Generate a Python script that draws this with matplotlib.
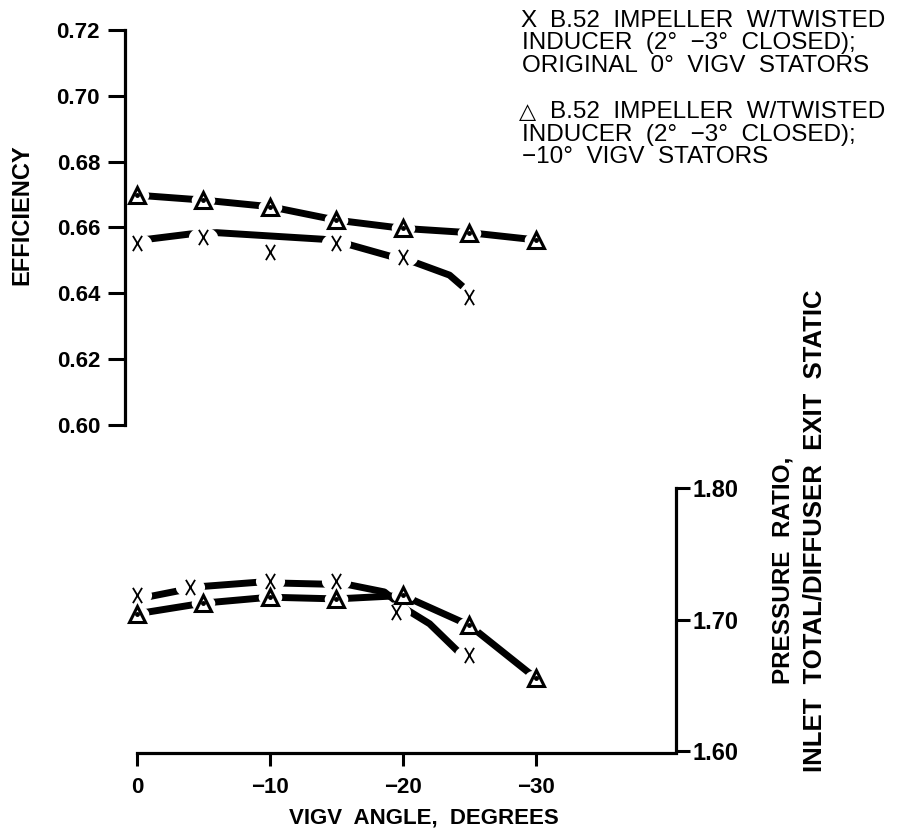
import numpy as np
import matplotlib.pyplot as plt
from matplotlib.path import Path
from matplotlib.transforms import Affine2D

plt.rcParams['font.family'] = ['Liberation Sans', 'DejaVu Sans']
plt.rcParams['font.weight'] = 'bold'

# VIGV angle, degrees
angle_tri = [0, -5, -10, -15, -20, -25, -30]
angle_x_eff = [0, -5, -10, -15, -20, -25]
angle_x_pr = [0, -4, -10, -15, -19.5, -25]

# test points
eff_x = [0.6552, 0.6570, 0.6526, 0.6552, 0.6511, 0.6388]
eff_tri = [0.6698, 0.6683, 0.6663, 0.6622, 0.6597, 0.6584, 0.6562]
pr_x = [1.7183, 1.7245, 1.7291, 1.7296, 1.7057, 1.6730]
pr_tri = [1.7044, 1.7125, 1.7170, 1.7157, 1.7183, 1.6956, 1.6553]

# hand faired curves through the X points
fair_eff_angle = [-0.4, -4.0, -6.0, -14.0, -15.4, -19.0, -20.4, -23.5, -24.5]
fair_eff = [0.6562, 0.6580, 0.6584, 0.6564, 0.6554, 0.6513, 0.6501, 0.6455, 0.6420]
fair_pr_angle = [-0.7, -4.7, -9.0, -10.5, -15.9, -18.6, -20.3, -22.0, -24.3]
fair_pr = [1.7170, 1.7250, 1.7283, 1.7278, 1.7265, 1.7210, 1.7074, 1.6968, 1.6742]

eff_ticks = [0.60, 0.62, 0.64, 0.66, 0.68, 0.70, 0.72]
pr_ticks = [1.60, 1.70, 1.80]
angle_ticks = [0, -10, -20, -30]
angle_labels = ['0', '\u221210', '\u221220', '\u221230']

legend_x = ['B.52  IMPELLER  W/TWISTED', 'INDUCER  (2\u00b0  \u22123\u00b0  CLOSED);',
            'ORIGINAL  0\u00b0  VIGV  STATORS']
legend_tri = ['B.52  IMPELLER  W/TWISTED', 'INDUCER  (2\u00b0  \u22123\u00b0  CLOSED);',
              '\u221210\u00b0  VIGV  STATORS']

W, H = 898, 834
fig = plt.figure(figsize=(W / 100, H / 100), dpi=100)
ax1 = fig.add_axes([125 / W, 1 - 770 / H, (676 - 125) / W, 750 / H])
ax2 = ax1.twinx()

x_left, x_right = 0.902, -40.53
ax1.set_xlim(x_left, x_right)
ax1.set_ylim(0.49508, 0.72304)
ax2.set_ylim(1.5856, 2.1559)

# tall thin X marker
xmark = Path([(-0.6, -1), (0.6, 1), (-0.6, 1), (0.6, -1)],
             [Path.MOVETO, Path.LINETO, Path.MOVETO, Path.LINETO])
# flat white ellipse used to break the curves around each symbol
gap = Path.unit_circle().transformed(Affine2D().scale(1, 0.7))

lw = 5
for ax, ax_x, y_x, fa, fy, y_tri in [
        (ax1, angle_x_eff, eff_x, fair_eff_angle, fair_eff, eff_tri),
        (ax2, angle_x_pr, pr_x, fair_pr_angle, fair_pr, pr_tri)]:
    ax.plot(fa, fy, color='black', lw=lw, solid_capstyle='butt', zorder=2)
    ax.plot(angle_tri, y_tri, color='black', lw=lw, solid_capstyle='butt', zorder=2)
    ax.plot(ax_x, y_x, linestyle='none', marker=gap, markersize=21,
            markerfacecolor='white', markeredgewidth=0, zorder=3)
    ax.plot(angle_tri, y_tri, linestyle='none', marker=gap, markersize=17,
            markerfacecolor='white', markeredgewidth=0, zorder=3)
    ax.plot(ax_x, y_x, linestyle='none', marker=xmark, ms=11, mew=1.3,
            color='black', zorder=4)
    ax.plot(angle_tri, y_tri, '^', ms=12, mfc='white', mec='black', mew=2.2, zorder=4)
    ax.plot(angle_tri, y_tri, 'o', ms=2.5, color='black', zorder=5)

# spines
for s in ['top', 'right']:
    ax1.spines[s].set_visible(False)
for s in ['top', 'left', 'bottom']:
    ax2.spines[s].set_visible(False)
ax1.spines['left'].set_bounds(0.60, 0.72)
ax1.spines['bottom'].set_position(('axes', 0.0227))
ax1.spines['bottom'].set_bounds(0, x_right)
ax2.spines['right'].set_bounds(1.60, 1.80)
for sp in [ax1.spines['left'], ax1.spines['bottom'], ax2.spines['right']]:
    sp.set_linewidth(2.3)
    sp.set_zorder(3.5)

ax1.set_yticks(eff_ticks)
ax1.set_yticklabels(['%.2f' % v for v in eff_ticks])
ax2.set_yticks(pr_ticks)
ax2.set_yticklabels(['%.2f' % v for v in pr_ticks])
ax1.set_xticks(angle_ticks)
ax1.set_xticklabels(angle_labels)

ax1.tick_params(axis='y', direction='out', length=12, width=2.2, pad=6, labelsize=16)
ax1.tick_params(axis='x', direction='out', length=9.5, width=2.2, pad=8, labelsize=16)
ax2.tick_params(axis='y', direction='out', length=10, width=2.2, pad=2, labelsize=17)

# axis titles
fig.text(22 / W, 1 - 215 / H, 'EFFICIENCY', rotation=90, ha='center', va='center',
         fontsize=17)
fig.text(424 / W, 1 - 818 / H, 'VIGV  ANGLE,  DEGREES', ha='center', va='center',
         fontsize=16)
fig.text(783 / W, 1 - 570 / H, 'PRESSURE  RATIO,', rotation=90, ha='center',
         va='center', fontsize=17.5)
fig.text(815 / W, 1 - 531 / H, 'INLET  TOTAL/DIFFUSER  EXIT  STATIC', rotation=90,
         ha='center', va='center', fontsize=18.5)

# legend block
fig.text(520 / W, 1 - 21 / H, 'X', ha='left', va='center', fontsize=17.5,
         fontweight='normal')
fig.text(519 / W, 1 - 112 / H, '\u25b3', ha='left', va='center', fontsize=16,
         fontweight='normal', family=['DejaVu Sans'])
for i, line in enumerate(legend_x):
    x0 = 550 if i == 0 else 522
    fig.text(x0 / W, 1 - (21 + 22.5 * i) / H, line, ha='left', va='center',
             fontsize=17.5, fontweight='normal')
for i, line in enumerate(legend_tri):
    x0 = 550 if i == 0 else 522
    fig.text(x0 / W, 1 - (112 + 22.5 * i) / H, line, ha='left', va='center',
             fontsize=17.5, fontweight='normal')

fig.savefig('out.png', dpi=100)
